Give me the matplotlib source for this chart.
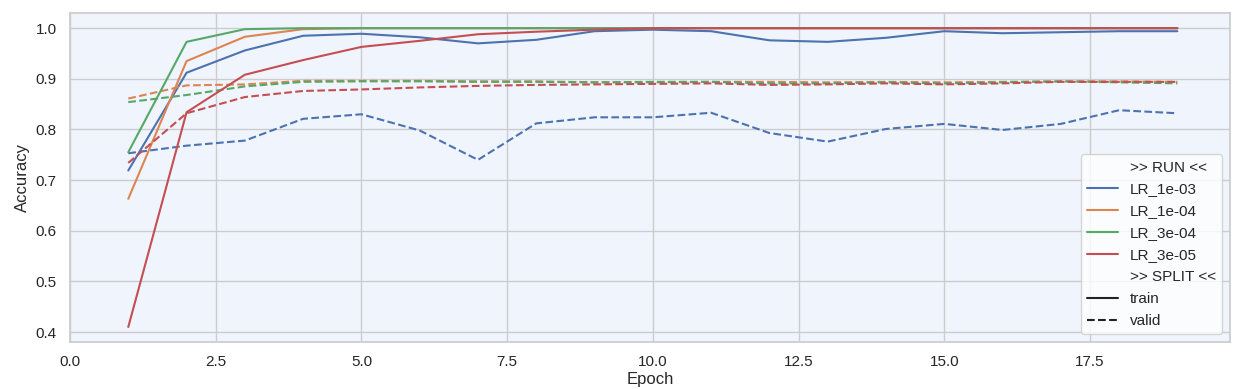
import matplotlib
matplotlib.use("Agg")
import matplotlib.pyplot as plt
from matplotlib.lines import Line2D
import seaborn as sns

epochs = list(range(1, 20))
runs = ["LR_1e-03", "LR_1e-04", "LR_3e-04", "LR_3e-05"]

train_1e03 = [0.719, 0.912, 0.956, 0.985, 0.989, 0.982, 0.970, 0.977, 0.994, 0.997,
              0.994, 0.976, 0.973, 0.981, 0.994, 0.990, 0.992, 0.994, 0.994]
train_1e04 = [0.663, 0.935, 0.983, 0.998, 1.0, 1.0, 1.0, 1.0, 1.0, 1.0,
              1.0, 1.0, 1.0, 1.0, 1.0, 1.0, 1.0, 1.0, 1.0]
train_3e04 = [0.755, 0.973, 0.998, 1.0, 1.0, 1.0, 1.0, 1.0, 1.0, 1.0,
              1.0, 1.0, 1.0, 1.0, 1.0, 1.0, 1.0, 1.0, 1.0]
train_3e05 = [0.410, 0.834, 0.908, 0.937, 0.963, 0.975, 0.988, 0.993, 0.997, 1.0,
              1.0, 1.0, 1.0, 1.0, 1.0, 1.0, 1.0, 1.0, 1.0]

valid_1e03 = [0.753, 0.768, 0.778, 0.821, 0.830, 0.798, 0.740, 0.812, 0.824, 0.824,
              0.833, 0.793, 0.776, 0.801, 0.811, 0.799, 0.811, 0.838, 0.832]
valid_1e04 = [0.861, 0.887, 0.889, 0.896, 0.896, 0.896, 0.895, 0.895, 0.893, 0.893,
              0.894, 0.894, 0.893, 0.894, 0.893, 0.894, 0.895, 0.895, 0.894]
valid_3e04 = [0.854, 0.868, 0.885, 0.894, 0.895, 0.895, 0.894, 0.894, 0.893, 0.894,
              0.894, 0.891, 0.891, 0.893, 0.891, 0.893, 0.895, 0.893, 0.891]
valid_3e05 = [0.734, 0.832, 0.864, 0.876, 0.879, 0.883, 0.886, 0.888, 0.889, 0.890,
              0.891, 0.888, 0.889, 0.891, 0.889, 0.891, 0.894, 0.894, 0.894]

train = [train_1e03, train_1e04, train_3e04, train_3e05]
valid = [valid_1e03, valid_1e04, valid_3e04, valid_3e05]

sns.set_theme(style="whitegrid")
plt.rcParams["font.family"] = ["Liberation Sans", "DejaVu Sans"]

colors = sns.color_palette("deep")[:4]

fig, ax = plt.subplots(figsize=(12.41, 3.89), dpi=100)
fig.subplots_adjust(left=0.0564, right=0.991, top=0.966, bottom=0.121)
ax.set_facecolor("#f0f5fd")
for s in ax.spines.values():
    s.set_color("#cccccc")
    s.set_linewidth(1.25)

for c, tr, va in zip(colors, train, valid):
    ax.plot(epochs, tr, color=c, lw=1.5, ls="-")
    ax.plot(epochs, va, color=c, lw=1.5, ls="--")

ax.set_xlim(left=0)
ax.set_xlabel("Epoch", fontsize=12, labelpad=2)
ax.set_ylabel("Accuracy", fontsize=12)
ax.tick_params(labelsize=11)

handles = [Line2D([], [], color="none", label=">> RUN <<")]
for c, r in zip(colors, runs):
    handles.append(Line2D([], [], color=c, lw=1.5, label=r))
handles.append(Line2D([], [], color="none", label=">> SPLIT <<"))
handles.append(Line2D([], [], color="#222222", lw=1.5, ls="-", label="train"))
handles.append(Line2D([], [], color="#222222", lw=1.5, ls="--", label="valid"))
ax.legend(handles=handles, loc="lower right", fontsize=11, framealpha=0.8,
          handlelength=2.0, labelspacing=0.52, borderaxespad=0.5)

fig.savefig("out.png", dpi=100)
